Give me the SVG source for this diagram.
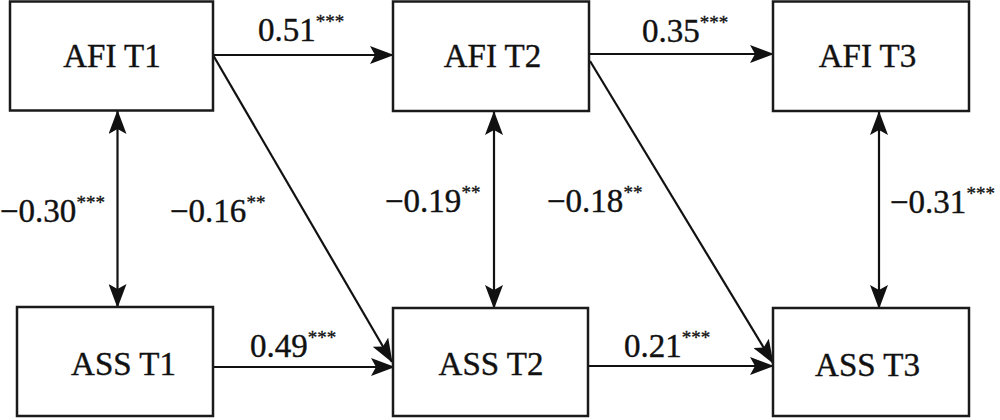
<svg xmlns="http://www.w3.org/2000/svg" width="1000" height="420" viewBox="0 0 1000 420" font-family="'Liberation Serif', 'Times New Roman', 'DejaVu Serif', serif">
<defs>
<style>
text{font-family:'Liberation Serif','Times New Roman','DejaVu Serif',serif;fill:#111;stroke:#111;stroke-width:0.4}
.box{fill:#fff;stroke:#1a1a1a;stroke-width:2.5}
.lbl{font-size:33px}
.coef{font-size:33px}
.sup{font-size:19px;stroke-width:0.3}
.conn{stroke:#111;stroke-width:2.2;fill:none;marker-end:url(#ah)}
.dbl{marker-start:url(#ah)}
</style>
<marker id="ah" markerUnits="userSpaceOnUse" markerWidth="24" markerHeight="18" viewBox="0 0 24 18" refX="23" refY="9" orient="auto-start-reverse">
<path d="M0,0 L24,9 L0,18 L5,9 z" fill="#111"/>
</marker>
</defs>
<g id="connectors">
<line class="conn" x1="213" y1="55" x2="393" y2="55"/>
<line class="conn" x1="589" y1="54" x2="773" y2="54"/>
<line class="conn" x1="213" y1="367" x2="394" y2="367"/>
<line class="conn" x1="588" y1="366" x2="773" y2="366"/>
<line class="conn" x1="213" y1="55" x2="392" y2="362"/>
<line class="conn" x1="590" y1="61" x2="773" y2="363"/>
<line class="conn dbl" x1="117.5" y1="111" x2="117.5" y2="307"/>
<line class="conn dbl" x1="494" y1="112" x2="494" y2="308"/>
<line class="conn dbl" x1="879" y1="112" x2="879" y2="308"/>
</g>
<g id="labels">
<text class="coef" x="258" y="41">0.51<tspan class="sup" dy="-13">***</tspan></text>
<text class="coef" x="642" y="42">0.35<tspan class="sup" dy="-13">***</tspan></text>
<text class="coef" x="250" y="357">0.49<tspan class="sup" dy="-13">***</tspan></text>
<text class="coef" x="624" y="357">0.21<tspan class="sup" dy="-13">***</tspan></text>
<text class="coef" x="0" y="222">−0.30<tspan class="sup" dy="-13">***</tspan></text>
<text class="coef" x="170" y="222">−0.16<tspan class="sup" dy="-13">**</tspan></text>
<text class="coef" x="385" y="212">−0.19<tspan class="sup" dy="-13">**</tspan></text>
<text class="coef" x="547" y="212">−0.18<tspan class="sup" dy="-13">**</tspan></text>
<text class="coef" x="890" y="213">−0.31<tspan class="sup" dy="-13">***</tspan></text>
</g>
<g id="afi-t1"><rect class="box" x="10" y="1.5" width="203" height="109"/><text class="lbl" x="112" y="67" text-anchor="middle">AFI T1</text></g>
<g id="afi-t2"><rect class="box" x="393" y="1.5" width="196" height="109.5"/><text class="lbl" x="492.5" y="67" text-anchor="middle">AFI T2</text></g>
<g id="afi-t3"><rect class="box" x="773" y="1.5" width="196" height="109.5"/><text class="lbl" x="867.5" y="67" text-anchor="middle">AFI T3</text></g>
<g id="ass-t1"><rect class="box" x="17" y="307" width="196" height="109"/><text class="lbl" x="123.5" y="375" text-anchor="middle">ASS T1</text></g>
<g id="ass-t2"><rect class="box" x="393" y="308" width="195" height="108"/><text class="lbl" x="491" y="375" text-anchor="middle">ASS T2</text></g>
<g id="ass-t3"><rect class="box" x="773" y="308" width="196" height="108"/><text class="lbl" x="867.5" y="376" text-anchor="middle">ASS T3</text></g>
</svg>
